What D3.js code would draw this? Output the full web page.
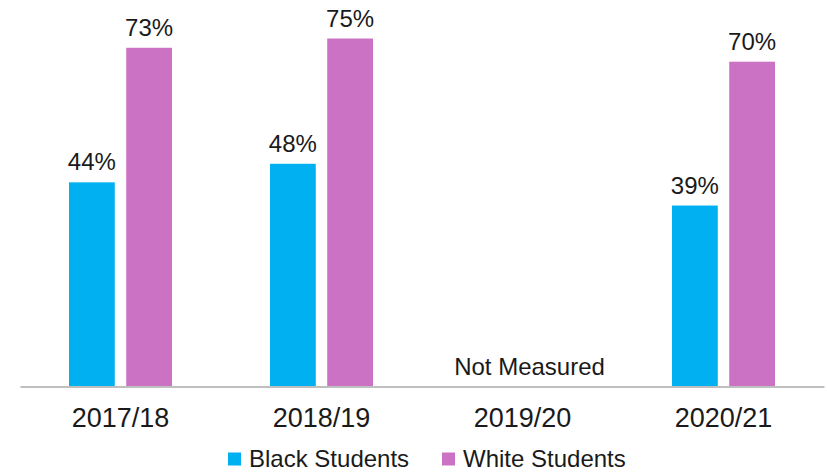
<!DOCTYPE html>
<html>
<head>
<meta charset="utf-8">
<script src="https://cdn.jsdelivr.net/npm/d3@7"></script>
<style>
  html, body { margin: 0; padding: 0; background: #fff; }
  svg { display: block; font-family: "Liberation Sans", Arial, sans-serif; }
</style>
</head>
<body>
<svg id="chart" width="827" height="472"></svg>
<script>
const categories = ["2017/18", "2018/19", "2019/20", "2020/21"];
const seriesNames = ["Black Students", "White Students"];
const blackValues = [44, 48, null, 39];
const whiteValues = [73, 75, null, 70];
const seriesColors = ["#00b0f0", "#cc72c4"];
const missingNote = "Not Measured";

const svg = d3.select("#chart");
const W = 827, H = 472;
const left = 20, right = 824, baseY = 386.5;

const x0 = d3.scaleBand().domain(categories).range([left, right]).paddingInner(0).paddingOuter(0);
const x1 = d3.scaleBand().domain(seriesNames).range([-51.5, 51.5]).paddingInner(0.2).paddingOuter(0);
const y = d3.scaleLinear().domain([0, 75]).range([baseY, 38.5]);

const seriesValues = [blackValues, whiteValues];
const data = [];
categories.forEach((c, i) => {
  seriesNames.forEach((s, j) => {
    data.push({cat: c, series: s, value: seriesValues[j][i], color: seriesColors[j]});
  });
});

const g = svg.append("g");

g.selectAll("rect.bar")
  .data(data.filter(d => d.value != null))
  .join("rect")
  .attr("class", "bar")
  .attr("x", d => x0(d.cat) + x0.bandwidth() / 2 + x1(d.series))
  .attr("width", x1.bandwidth())
  .attr("y", d => y(d.value))
  .attr("height", d => y(0) - y(d.value))
  .attr("fill", d => d.color);

g.selectAll("text.val")
  .data(data.filter(d => d.value != null))
  .join("text")
  .attr("class", "val")
  .attr("x", d => x0(d.cat) + x0.bandwidth() / 2 + x1(d.series) + x1.bandwidth() / 2)
  .attr("y", d => y(d.value) - 12)
  .attr("text-anchor", "middle")
  .attr("font-size", 24)
  .attr("fill", "#1a1a1a")
  .text(d => d.value + "%");

// Not measured note
categories.forEach((c, i) => {
  if (blackValues[i] == null && whiteValues[i] == null) {
    g.append("text")
      .attr("x", x0(c) + x0.bandwidth() / 2 + 7)
      .attr("y", 375)
      .attr("text-anchor", "middle")
      .attr("font-size", 24)
      .attr("fill", "#1a1a1a")
      .text(missingNote);
  }
});

// Axis
const xAxis = d3.axisBottom(x0).tickSize(0).tickPadding(0);
const ax = svg.append("g").attr("transform", `translate(0,${baseY})`).call(xAxis);
ax.select(".domain").attr("stroke", "#bfbfbf").attr("stroke-width", 2);
ax.selectAll(".tick text")
  .attr("y", 40.5)
  .attr("dy", 0)
  .attr("font-size", 27)
  .attr("font-family", "\"Liberation Sans\", Arial, sans-serif")
  .attr("fill", "#1a1a1a");

// Legend
const legendItems = [
  {name: seriesNames[0], color: seriesColors[0], x: 228},
  {name: seriesNames[1], color: seriesColors[1], x: 442}
];
const lg = svg.append("g");
legendItems.forEach(it => {
  lg.append("rect").attr("x", it.x).attr("y", 452.5).attr("width", 13).attr("height", 13).attr("fill", it.color);
  lg.append("text").attr("x", it.x + 21).attr("y", 467).attr("font-size", 24).attr("fill", "#1a1a1a").text(it.name);
});
</script>
</body>
</html>
